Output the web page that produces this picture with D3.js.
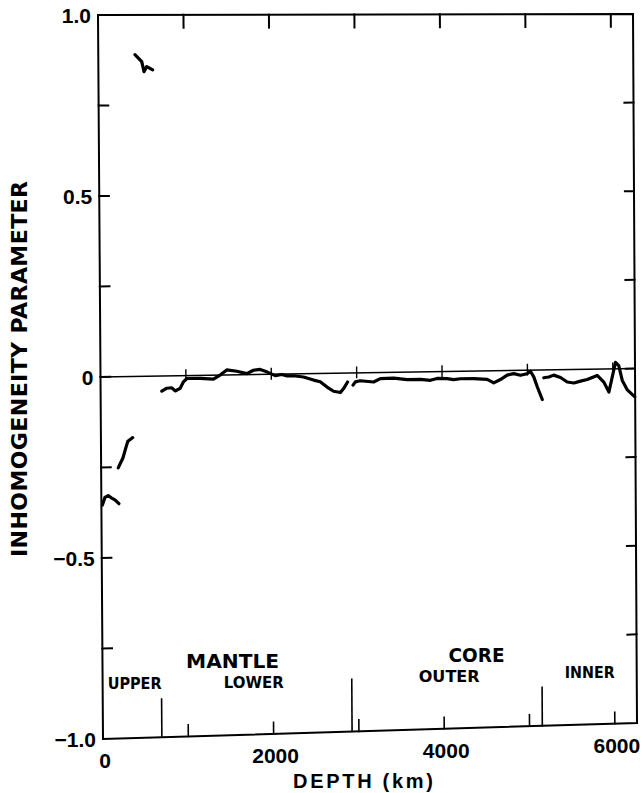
<!DOCTYPE html>
<html><head><meta charset="utf-8">
<script src="https://cdn.jsdelivr.net/npm/d3@7"></script>
<style>html,body{margin:0;padding:0;background:#fff;} svg{display:block;}</style>
</head><body>
<svg id="chart" width="644" height="793"></svg>
<script>
// ---------------- data (depth in km, inhomogeneity parameter) ----------------
const upperA_depth = [429, 508, 534, 566, 636];
const upperA_value = [0.890, 0.871, 0.843, 0.857, 0.848];
const upperB_depth = [11, 42, 81, 121, 159, 206];
const upperB_value = [-0.354, -0.333, -0.328, -0.335, -0.340, -0.351];
const upperC_depth = [200, 256, 296, 315, 373];
const upperC_value = [-0.252, -0.225, -0.193, -0.179, -0.169];
const lowerMantle_depth = [717, 776, 835, 873, 932, 971, 1011, 1166, 1322, 1401, 1479, 1597, 1714, 1791, 1870, 1948, 2046, 2124, 2183, 2260, 2377, 2495, 2573, 2652, 2729, 2808, 2846, 2893];
const lowerMantle_value = [-0.042, -0.034, -0.033, -0.042, -0.035, -0.017, -0.008, -0.008, -0.011, 0.000, 0.014, 0.010, 0.003, 0.012, 0.014, 0.007, -0.004, -0.001, -0.005, -0.005, -0.009, -0.018, -0.023, -0.038, -0.050, -0.054, -0.043, -0.025];
const outerCore_depth = [2957, 2984, 3042, 3198, 3277, 3433, 3590, 3746, 3863, 3941, 4059, 4136, 4215, 4370, 4528, 4605, 4683, 4762, 4839, 4918, 4996, 5035, 5074, 5114, 5172];
const outerCore_value = [-0.034, -0.025, -0.022, -0.026, -0.017, -0.016, -0.021, -0.021, -0.024, -0.019, -0.020, -0.023, -0.021, -0.021, -0.024, -0.034, -0.025, -0.013, -0.009, -0.014, -0.010, -0.003, -0.019, -0.047, -0.083];
const innerCore_depth = [5191, 5250, 5308, 5387, 5465, 5543, 5621, 5700, 5817, 5894, 5953, 5993, 6032, 6070, 6110, 6169, 6256];
const innerCore_value = [-0.022, -0.020, -0.015, -0.022, -0.035, -0.038, -0.033, -0.029, -0.018, -0.037, -0.065, -0.023, 0.018, 0.009, -0.033, -0.060, -0.080];

const xTickValues = [1000, 2000, 3000, 4000, 5000, 6000];
const xLabelValues = [0, 2000, 4000, 6000];
const xLabelTexts = ["0", "2000", "4000", "6000"];
const yTickValues = [-0.75, -0.5, -0.25, 0, 0.25, 0.5, 0.75];
const yLabelValues = [-1, -0.5, 0, 0.5, 1];
const yLabelTexts = ["\u22121.0", "\u22120.5", "0", "0.5", "1.0"];

const boundaryDepth = [690, 2920, 5150];
const boundaryTop = [-0.894, -0.854, -0.892];

const regionNames = ["MANTLE", "CORE"];
const regionDepth = [1524, 4384];
const regionValue = [-0.814, -0.816];
const subNames = ["UPPER", "LOWER", "OUTER", "INNER"];
const subDepth = [375, 1770, 4062, 5709];
const subValue = [-0.864, -0.871, -0.870, -0.869];

// ---------------- geometry ----------------
const svg = d3.select("#chart");
// frame corners of the (slightly skewed) scanned plot box
const TL = [98, 15], TR = [633, 14], BL = [103, 739], BR = [637, 723];
const xs = d3.scaleLinear().domain([0, 6260]).range([0, 1]);
const ys = d3.scaleLinear().domain([1, -1]).range([0, 1]);
function warp(u, v) {
  return [
    (1-u)*(1-v)*TL[0] + u*(1-v)*TR[0] + (1-u)*v*BL[0] + u*v*BR[0],
    (1-u)*(1-v)*TL[1] + u*(1-v)*TR[1] + (1-u)*v*BL[1] + u*v*BR[1]
  ];
}
const P = (km, val) => warp(xs(km), ys(val));
const seg = (a, b, w) => svg.append("line")
  .attr("x1", a[0]).attr("y1", a[1]).attr("x2", b[0]).attr("y2", b[1])
  .attr("stroke", "#000").attr("stroke-width", w).attr("stroke-linecap", "square");

const FONT = "'DejaVu Sans', 'Liberation Sans', Arial, sans-serif";
const NUMFONT = "'Liberation Sans', Arial, sans-serif";

// frame
svg.append("path")
  .attr("d", d3.line()([warp(0,0), warp(1,0), warp(1,1), warp(0,1)]) + "Z")
  .attr("fill", "none").attr("stroke", "#000").attr("stroke-width", 2);

// zero reference line
seg(warp(0, ys(0)), warp(1, ys(0)), 1.6);

// x ticks: top (down), bottom (up), crossing ticks on zero line
xTickValues.forEach(t => {
  const u = xs(t);
  seg(warp(u, 0), warp(u, 0.018), 2);
  seg(warp(u, 1), warp(u, 1 - 0.016), 1.6);
  seg(P(t, 0.016), P(t, -0.013), 1.4);
});
// y ticks: left and right, inward
yTickValues.forEach(t => {
  const v = ys(t);
  seg(warp(0, v), warp(0.018, v), 2);
  seg(warp(1, v), warp(1 - 0.017, v), 2);
});

// boundary markers
boundaryDepth.forEach((d, i) => {
  seg(P(d, -1), P(d, boundaryTop[i]), 1.6);
});

// data
const line = d3.line().x(d => P(d[0], d[1])[0]).y(d => P(d[0], d[1])[1]);
const series = [
  [upperA_depth, upperA_value],
  [upperB_depth, upperB_value],
  [upperC_depth, upperC_value],
  [lowerMantle_depth, lowerMantle_value],
  [outerCore_depth, outerCore_value],
  [innerCore_depth, innerCore_value]
];
series.forEach(([dx, dy]) => {
  svg.append("path")
    .attr("d", line(dx.map((d, i) => [d, dy[i]])))
    .attr("fill", "none").attr("stroke", "#000").attr("stroke-width", 3.2)
    .attr("stroke-linejoin", "round").attr("stroke-linecap", "round");
});

// y tick labels
yLabelValues.forEach((t, i) => {
  const p = P(0, t);
  svg.append("text").attr("x", p[0] - 7).attr("y", p[1]).attr("dy", "0.36em")
    .attr("text-anchor", "end").attr("font-family", NUMFONT).attr("font-weight", "bold")
    .attr("font-size", 21)
    .text(yLabelTexts[i]);
});
// x tick labels
xLabelValues.forEach((t, i) => {
  const p = P(t, -1);
  svg.append("text").attr("x", p[0] + 2).attr("y", p[1] + 29)
    .attr("text-anchor", "middle").attr("font-family", NUMFONT).attr("font-weight", "bold")
    .attr("font-size", 21)
    .text(xLabelTexts[i]);
});

// axis titles
svg.append("text")
  .attr("transform", "translate(27,369) rotate(-90)")
  .attr("text-anchor", "middle").attr("font-family", FONT).attr("font-weight", "bold")
  .attr("font-size", 22).attr("textLength", 376).attr("lengthAdjust", "spacing")
  .text("INHOMOGENEITY PARAMETER");
svg.append("text")
  .attr("x", 293).attr("y", 788)
  .attr("font-family", NUMFONT).attr("font-weight", "bold").attr("font-size", 20)
  .attr("textLength", 140).attr("lengthAdjust", "spacing")
  .text("DEPTH (km)");

// region labels
const regionWidths = [93, 56];
regionNames.forEach((n, i) => {
  const p = P(regionDepth[i], regionValue[i]);
  svg.append("text").attr("x", p[0]).attr("y", p[1])
    .attr("text-anchor", "middle").attr("font-family", FONT).attr("font-weight", "bold")
    .attr("font-size", 20).attr("textLength", regionWidths[i]).attr("lengthAdjust", "spacingAndGlyphs")
    .text(n);
});
const subWidths = [54, 60, 61, 50];
subNames.forEach((n, i) => {
  const p = P(subDepth[i], subValue[i]);
  svg.append("text").attr("x", p[0]).attr("y", p[1])
    .attr("text-anchor", "middle").attr("font-family", FONT).attr("font-weight", "bold")
    .attr("font-size", 15).attr("textLength", subWidths[i]).attr("lengthAdjust", "spacingAndGlyphs")
    .text(n);
});
</script>
</body></html>
